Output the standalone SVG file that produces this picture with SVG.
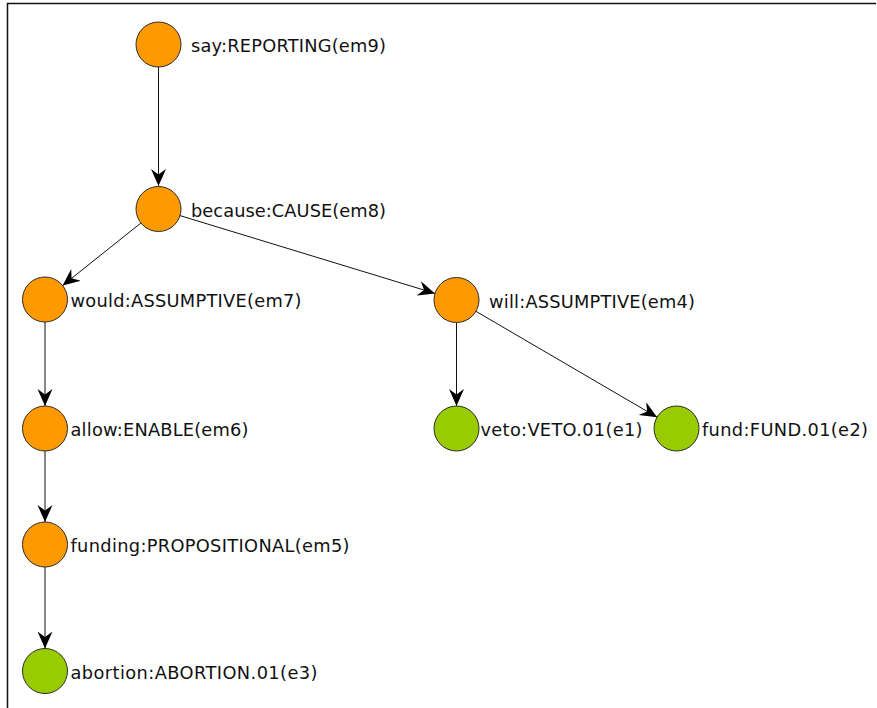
<svg xmlns="http://www.w3.org/2000/svg" width="877" height="708" viewBox="0 0 877 708">
  <style>
    .node circle { stroke: #2b2b2b; stroke-width: 1; }
    .pred circle { fill: #ff9900; }
    .event circle { fill: #99cc00; }
    .node text { font-family: "DejaVu Sans", "Liberation Sans", sans-serif; font-size: 17.8px; fill: #111; }
    #edges line { stroke: #111; stroke-width: 1; marker-end: url(#arrow); }
  </style>
  <defs>
    <marker id="arrow" markerUnits="userSpaceOnUse" viewBox="-17 -8 18 16" refX="0" refY="0" markerWidth="18" markerHeight="16" orient="auto">
      <path d="M0,0 L-17,-7.5 L-11.5,0 L-17,7.5 Z" fill="#000"/>
    </marker>
  </defs>
  <rect width="877" height="708" fill="#fff"/>
  <!-- frame -->
  <path d="M7.5,708 V3.5 H876" fill="none" stroke="#111" stroke-width="1.5"/>

  <g id="edges">
    <line x1="158.5" y1="67" x2="158.5" y2="186"/>
    <line x1="140.9" y1="223" x2="62.6" y2="285.5"/>
    <line x1="180" y1="215.6" x2="435" y2="293.4"/>
    <line x1="456.5" y1="322.5" x2="456.5" y2="406"/>
    <line x1="475.9" y1="311.3" x2="657.1" y2="417.2"/>
    <line x1="45" y1="322" x2="45" y2="406"/>
    <line x1="45" y1="451" x2="45" y2="522"/>
    <line x1="45" y1="567" x2="45" y2="648.5"/>
  </g>

  <g id="em9" class="node pred">
    <circle cx="158.5" cy="44.5" r="22.5"/>
    <text x="191" y="52" textLength="195" lengthAdjust="spacing">say:REPORTING(em9)</text>
  </g>
  <g id="em8" class="node pred">
    <circle cx="158.5" cy="209" r="22.5"/>
    <text x="191" y="216.5" textLength="195" lengthAdjust="spacing">because:CAUSE(em8)</text>
  </g>
  <g id="em7" class="node pred">
    <circle cx="45" cy="299.5" r="22.5"/>
    <text x="70.5" y="307" textLength="231" lengthAdjust="spacing">would:ASSUMPTIVE(em7)</text>
  </g>
  <g id="em4" class="node pred">
    <circle cx="456.5" cy="300" r="22.5"/>
    <text x="489" y="307.5" textLength="206" lengthAdjust="spacing">will:ASSUMPTIVE(em4)</text>
  </g>
  <g id="e1" class="node event">
    <circle cx="456.5" cy="428.5" r="22.5"/>
    <text x="480.5" y="436" textLength="162" lengthAdjust="spacing">veto:VETO.01(e1)</text>
  </g>
  <g id="e2" class="node event">
    <circle cx="676.5" cy="428.5" r="22.5"/>
    <text x="702" y="436" textLength="166" lengthAdjust="spacing">fund:FUND.01(e2)</text>
  </g>
  <g id="em6" class="node pred">
    <circle cx="45" cy="428.5" r="22.5"/>
    <text x="70.5" y="436" textLength="178" lengthAdjust="spacing">allow:ENABLE(em6)</text>
  </g>
  <g id="em5" class="node pred">
    <circle cx="45" cy="544.5" r="22.5"/>
    <text x="70.5" y="552" textLength="279" lengthAdjust="spacing">funding:PROPOSITIONAL(em5)</text>
  </g>
  <g id="e3" class="node event">
    <circle cx="45" cy="671" r="22.5"/>
    <text x="70.5" y="678.5" textLength="247" lengthAdjust="spacing">abortion:ABORTION.01(e3)</text>
  </g>
</svg>
